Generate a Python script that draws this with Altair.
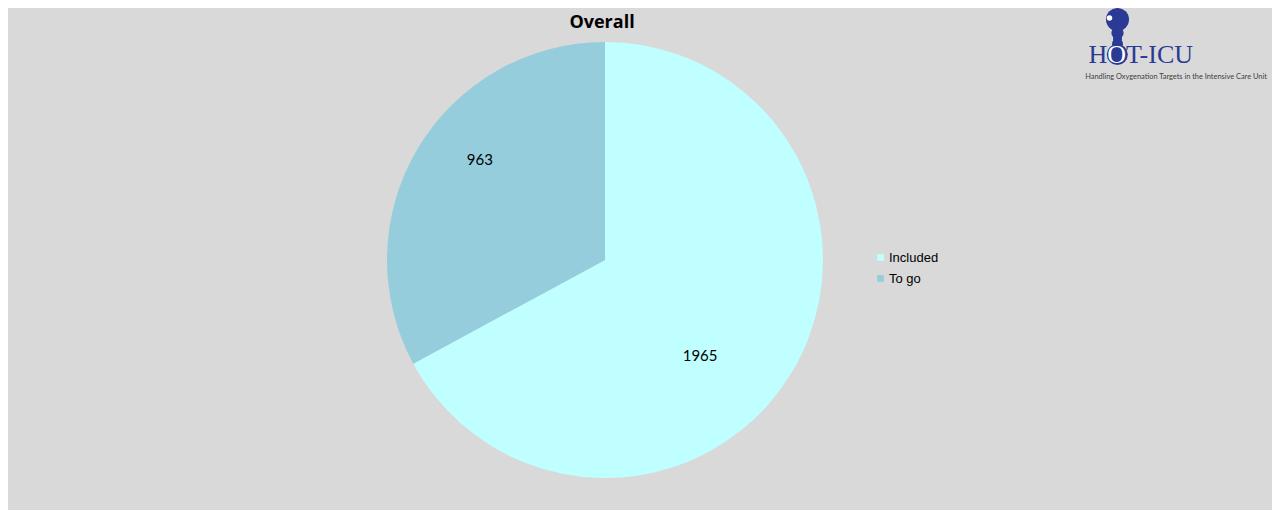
import altair as alt
import pandas as pd

categories = ["Included", "To go"]
values = [1965, 963]
colors = ["#BFFFFF", "#96CDDC"]

df = pd.DataFrame({"category": categories, "value": values, "order": [0, 1]})

W, H = 1264, 502
CX, CY = 597, 252
R = 218

base = alt.Chart(df).encode(
    theta=alt.Theta("value:Q", stack=True),
    order=alt.Order("order:Q"),
)

pie = base.mark_arc(outerRadius=R, stroke=None).encode(
    x=alt.value(CX), y=alt.value(CY),
    color=alt.Color(
        "category:N",
        scale=alt.Scale(domain=categories, range=colors),
        legend=alt.Legend(
            title=None, orient="none", legendX=866, legendY=243,
            symbolType="square", symbolSize=45, labelFont="Liberation Sans",
            labelFontSize=13, labelColor="#000000", rowPadding=7,
            symbolStrokeWidth=0, labelOffset=2,
        ),
    ),
)

def label_layer(cat, dx, dy):
    return base.mark_text(radius=148, font="Lato", fontSize=15, color="#000000", dx=dx, dy=dy).encode(
        x=alt.value(CX), y=alt.value(CY),
        text=alt.Text("value:Q"),
        opacity=alt.condition(alt.datum.category == cat, alt.value(1), alt.value(0)),
    )

label_inc = label_layer("Included", -32, 20)
label_togo = label_layer("To go", 2, -24)

title = alt.Chart(pd.DataFrame({"t": ["Overall"]})).mark_text(
    font="Open Sans", fontWeight="bold", fontSize=18, color="#000000"
).encode(x=alt.value(594), y=alt.value(15), text="t:N")

one = pd.DataFrame({"k": ["a"]})

def dot(x, y, size, color):
    return alt.Chart(one).mark_point(shape="circle", filled=True, color=color, opacity=1, strokeWidth=0).encode(
        x=alt.value(x), y=alt.value(y), size=alt.value(size)
    )

LOGO_BLUE = "#2B3A94"
DY = 4
blob_big = dot(1109.5, 7.5 + DY, 530, LOGO_BLUE)
blob_neck1 = dot(1109.5, 21 + DY, 150, LOGO_BLUE)
blob_neck2 = dot(1109.5, 27 + DY, 81, LOGO_BLUE)
blob_neck3 = dot(1109.5, 32 + DY, 121, LOGO_BLUE)
blob_o = dot(1109.3, 42.5 + DY, 441, LOGO_BLUE)
blob_hi = dot(1101.5, 6 + DY, 30, "#FFFFFF")

def logo_part(txt, x, color):
    return alt.Chart(pd.DataFrame({"t": [txt]})).mark_text(
        font="Liberation Serif", fontSize=26, color=color, align="left", baseline="alphabetic"
    ).encode(x=alt.value(x), y=alt.value(51 + DY), text="t:N")

logo_h = logo_part("H", 1080.5, LOGO_BLUE)
logo_o = logo_part("O", 1099.3, "#FFFFFF")
logo_rest = logo_part("T-ICU", 1118.1, LOGO_BLUE)

logo_sub = alt.Chart(pd.DataFrame({"t": ["Handling Oxygenation Targets in the Intensive Care Unit"]})).mark_text(
    font="Lato", fontSize=7.4, color="#404040", align="center"
).encode(x=alt.value(1168), y=alt.value(64.5 + DY), text="t:N")

chart = alt.layer(
    pie, label_inc, label_togo, title,
    blob_big, blob_neck1, blob_neck2, blob_neck3, blob_o, blob_hi,
    logo_h, logo_o, logo_rest, logo_sub
).properties(
    width=W, height=H, autosize=alt.AutoSizeParams(type="none"), padding=0,
    background="#D9D9D9",
).configure_view(stroke=None)

chart.save("out.html", embed_options={"renderer": "svg", "actions": False})
